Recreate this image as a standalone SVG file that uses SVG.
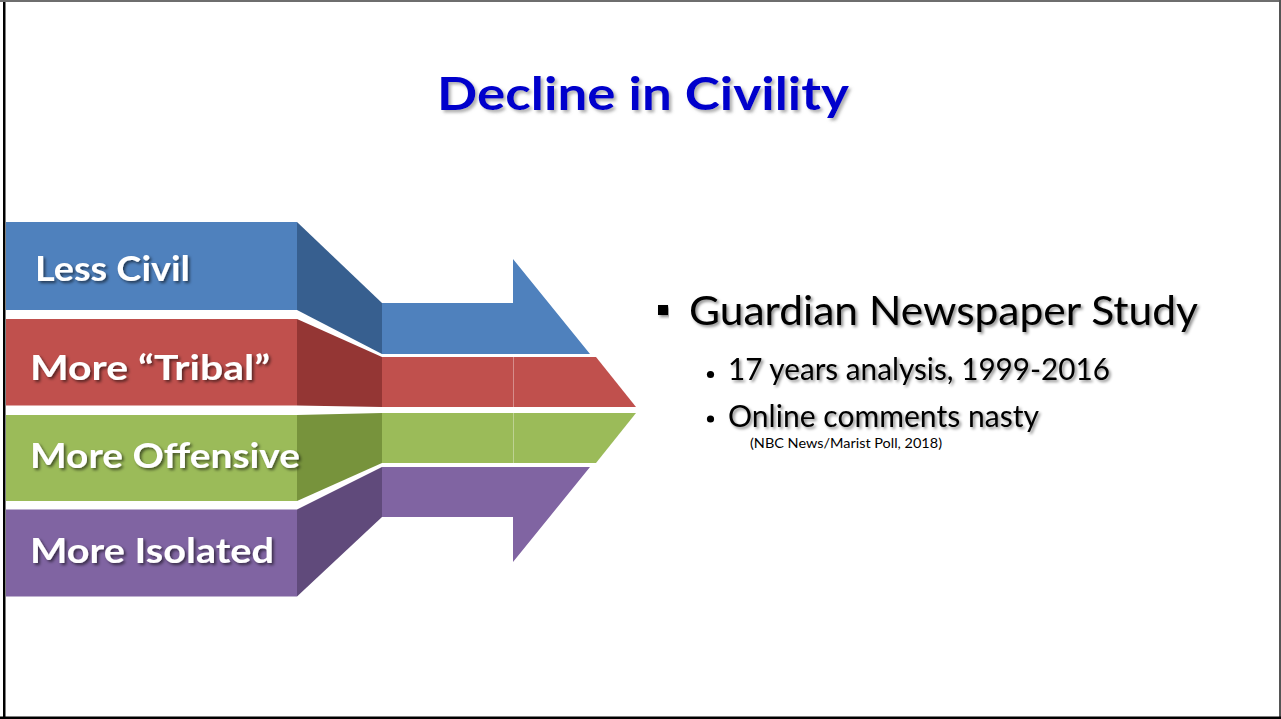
<svg xmlns="http://www.w3.org/2000/svg" width="1281" height="719" viewBox="0 0 1281 719">
  <defs>
    <filter id="shadowLabel" x="-10%" y="-30%" width="130%" height="170%">
      <feDropShadow dx="2" dy="2" stdDeviation="1.4" flood-color="#000" flood-opacity="0.55"/>
    </filter>
    <filter id="shadowTitle" x="-5%" y="-30%" width="115%" height="170%">
      <feDropShadow dx="2.5" dy="2.5" stdDeviation="1.5" flood-color="#7a7a7a" flood-opacity="0.6"/>
    </filter>
    <filter id="shadowText" x="-5%" y="-30%" width="115%" height="170%">
      <feDropShadow dx="2" dy="2" stdDeviation="1.6" flood-color="#000" flood-opacity="0.45"/>
    </filter>
  </defs>
  <style>
    .label { font-family: Lato, "Open Sans", "Liberation Sans", sans-serif; font-weight: 700; font-size: 34px; fill: #ffffff; filter: url(#shadowLabel); }
    .title { font-family: Lato, "Open Sans", "Liberation Sans", sans-serif; font-weight: 700; font-size: 45px; fill: #0000cc; filter: url(#shadowTitle); }
    .body  { font-family: Lato, "Open Sans", "Liberation Sans", sans-serif; font-weight: 400; fill: #000000; filter: url(#shadowText); }
    .seam  { stroke: #ffffff; stroke-opacity: 0.35; stroke-width: 1; }
  </style>

  <!-- page background and frame -->
  <rect x="0" y="0" width="1281" height="719" fill="#ffffff"/>
  <rect x="0" y="0" width="1281" height="2" fill="#6e6e6e"/>
  <rect x="1279" y="0" width="2" height="719" fill="#555555"/>
  <rect x="3" y="2" width="2.5" height="717" fill="#000000"/>
  <rect x="0" y="716.5" width="1281" height="2.5" fill="#000000"/>

  <!-- heading -->
  <g id="title">
    <text class="title" x="437" y="110" textLength="412" lengthAdjust="spacingAndGlyphs">Decline in Civility</text>
  </g>

  <!-- converging arrow bands -->
  <g id="band-less-civil">
    <rect x="6" y="222" width="291" height="88" fill="#4f81bd"/>
    <polygon points="297,222 382,303 382,354 297,310" fill="#375f8f"/>
    <polygon points="382,303 513,303 513,259 590,354 382,354" fill="#4f81bd"/>
    <text class="label" x="35" y="281" textLength="155" lengthAdjust="spacingAndGlyphs">Less Civil</text>
  </g>

  <g id="band-more-tribal">
    <rect x="6" y="319" width="291" height="86.5" fill="#c0504d"/>
    <polygon points="297,319 382,357 382,407 297,405.5" fill="#943634"/>
    <polygon points="382,357 596,357 636,407 382,407" fill="#c0504d"/>
    <line class="seam" x1="513.5" y1="357" x2="513.5" y2="407"/>
    <text class="label" x="30" y="380" textLength="240" lengthAdjust="spacingAndGlyphs">More “Tribal”</text>
  </g>

  <g id="band-more-offensive">
    <rect x="6" y="415" width="291" height="86" fill="#9bbb59"/>
    <polygon points="297,415 382,413 382,463 297,501" fill="#77933c"/>
    <polygon points="382,413 636,413 596,463 382,463" fill="#9bbb59"/>
    <line class="seam" x1="513.5" y1="413" x2="513.5" y2="463"/>
    <text class="label" x="30" y="468" textLength="270" lengthAdjust="spacingAndGlyphs">More Offensive</text>
  </g>

  <g id="band-more-isolated">
    <rect x="6" y="509.5" width="291" height="87" fill="#8064a2"/>
    <polygon points="297,509.5 382,467 382,517 297,596.5" fill="#604a7b"/>
    <polygon points="382,467 590,467 513,562 513,517 382,517" fill="#8064a2"/>
    <text class="label" x="30" y="563" textLength="244" lengthAdjust="spacingAndGlyphs">More Isolated</text>
  </g>

  <!-- bullet list -->
  <g id="study-list">
    <rect x="658" y="305" width="10" height="10" fill="#000000" filter="url(#shadowText)"/>
    <text class="body" x="689" y="325" font-size="40" textLength="509" lengthAdjust="spacingAndGlyphs">Guardian Newspaper Study</text>
    <circle cx="710.5" cy="374.5" r="3.6" fill="#000000"/>
    <text class="body" x="728" y="380" font-size="30.5" textLength="382" lengthAdjust="spacingAndGlyphs">17 years analysis, 1999-2016</text>
    <circle cx="710.5" cy="419" r="3.6" fill="#000000"/>
    <text class="body" x="728" y="427" font-size="30.5" textLength="311" lengthAdjust="spacingAndGlyphs">Online comments nasty</text>
    <text class="body" x="750" y="448" font-size="13" textLength="192" lengthAdjust="spacingAndGlyphs" style="filter:none">(NBC News/Marist Poll, 2018)</text>
  </g>
</svg>
